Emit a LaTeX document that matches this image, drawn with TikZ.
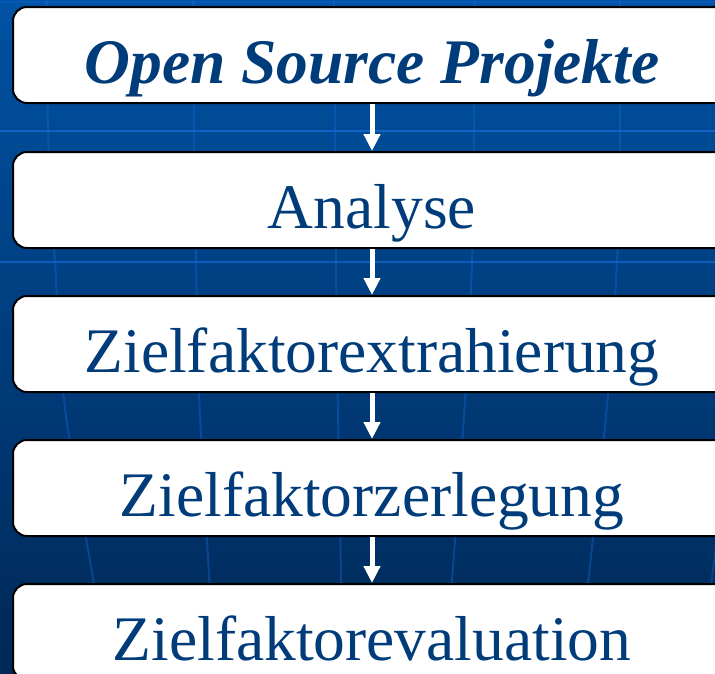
\documentclass[tikz,border=0pt]{standalone}
\usepackage{fontspec}
\setmainfont{Liberation Serif}
\usepackage{tikz}
\usetikzlibrary{arrows.meta}
\definecolor{bgtop}{RGB}{0,82,164}
\definecolor{bgbot}{RGB}{0,40,86}
\definecolor{gridblue}{RGB}{20,104,210}
\definecolor{textblue}{RGB}{0,60,122}

\begin{document}
\begin{tikzpicture}[x=1pt, y=-1pt,
		stepbox/.style={draw=black, line width=2pt, fill=white, rounded corners=14pt,
			inner sep=0pt, minimum width=718pt, text height=76pt, text depth=20pt,
			text=textblue, font=\fontsize{63.5}{70}\selectfont},
		flow/.style={draw=white, line width=5pt, -{Triangle[length=17pt,width=16pt]}},
		gridline/.style={gridblue, line width=2pt}]
			\useasboundingbox (0,0) rectangle (715,673);
			\shade[top color=bgtop, bottom color=bgbot] (0,0) rectangle (715,673);
			\draw[gridline, opacity=0.35] (0,2) -- (715,2);
			\draw[gridline, opacity=0.8] (0,131) -- (715,131);
			\draw[gridline, opacity=0.7] (0,262) -- (715,262);
			\foreach \a/\b/\c/\d/\e in {47/48/55/66/110, 193/194/196/200/215, 334/335/336/338/343, 475/474/472/464/445, 620/620/617/606/578}
				\draw[gridline, opacity=0.4] plot[smooth] coordinates {(\a,0) (\b,131) (\c,262) (\d,416) (\e,673)};
			\draw[gridline, opacity=0.4] (718,530) -- (700,673);
			\node[stepbox] (open) at (372,55) {\textbf{\textit{Open Source Projekte}}};
			\node[stepbox] (ana) at (372,200) {Analyse};
			\node[stepbox] (extr) at (372,344) {Zielfaktorextrahierung};
			\node[stepbox] (zerl) at (372,488) {Zielfaktorzerlegung};
			\node[stepbox] (eval) at (372,632) {Zielfaktorevaluation};
			\draw[flow] (open) -- (ana);
			\draw[flow] (ana) -- (extr);
			\draw[flow] (extr) -- (zerl);
			\draw[flow] (zerl) -- (eval);
		\end{tikzpicture}
\end{document}
